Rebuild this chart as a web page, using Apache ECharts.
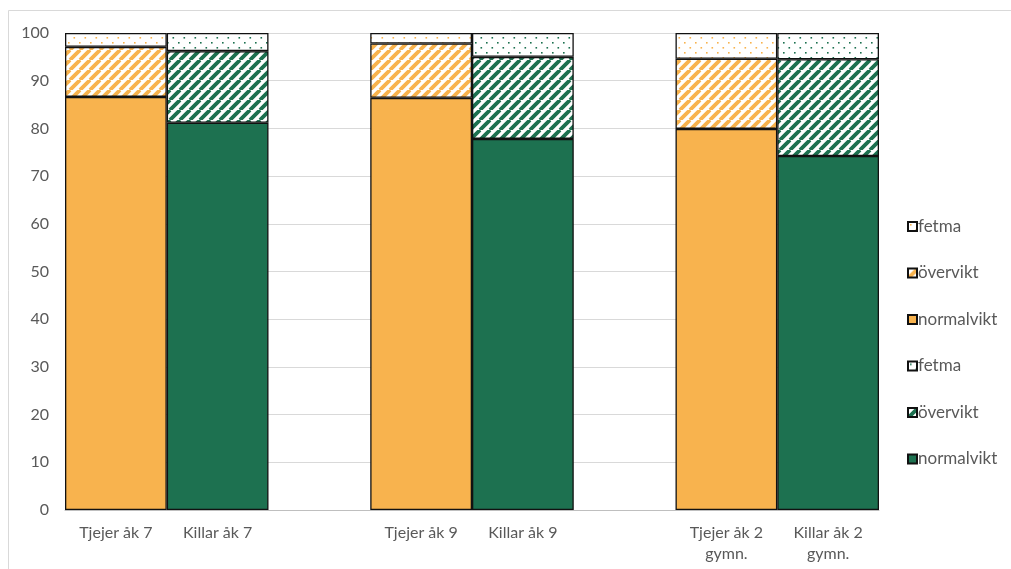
<!DOCTYPE html>
<html>
<head>
<meta charset="utf-8">
<script src="https://cdn.jsdelivr.net/npm/echarts@6/dist/echarts.min.js"></script>
<style>
html,body{margin:0;padding:0;background:#fff;}
#chart{width:1011px;height:569px;}
</style>
</head>
<body>
<div id="chart"></div>
<script>
// ---- data ----
const categories = ['Tjejer åk 7', 'Killar åk 7', '', 'Tjejer åk 9', 'Killar åk 9', '', 'Tjejer åk 2\ngymn.', 'Killar åk 2\ngymn.'];
const tjejerNormalvikt = [86.6, '-', '-', 86.4, '-', '-', 79.9, '-'];
const tjejerOvervikt   = [10.5, '-', '-', 11.4, '-', '-', 14.7, '-'];
const tjejerFetma      = [2.9,  '-', '-', 2.2,  '-', '-', 5.4,  '-'];
const killarNormalvikt = ['-', 81.2, '-', '-', 77.8, '-', '-', 74.2];
const killarOvervikt   = ['-', 15.0, '-', '-', 17.2, '-', '-', 20.3];
const killarFetma      = ['-', 3.8,  '-', '-', 5.0,  '-', '-', 5.5];
const yTicks = { min: 0, max: 100, interval: 10 };

const ORANGE = '#F8B34E';
const GREEN = '#1D7150';

function hatch(color) {
  const s = 10;
  const c = document.createElement('canvas');
  c.width = s; c.height = s;
  const ctx = c.getContext('2d');
  ctx.fillStyle = '#fff';
  ctx.fillRect(0, 0, s, s);
  ctx.strokeStyle = color;
  ctx.lineWidth = 3.8;
  ctx.beginPath();
  for (let k = -1; k <= 1; k++) {
    ctx.moveTo(k * s, s);
    ctx.lineTo(k * s + s, 0);
  }
  ctx.stroke();
  return { image: c, repeat: 'repeat' };
}
function dots(color) {
  const w = 11, h = 10;
  const c = document.createElement('canvas');
  c.width = w; c.height = h;
  const ctx = c.getContext('2d');
  ctx.fillStyle = '#fff';
  ctx.fillRect(0, 0, w, h);
  ctx.fillStyle = color;
  ctx.fillRect(2, 2, 1.6, 1.6);
  ctx.fillRect(7.5, 7, 1.6, 1.6);
  return { image: c, repeat: 'repeat' };
}

const border = { borderColor: '#111', borderWidth: 1.3 };
function mk(id, data, color) {
  return {
    name: id, type: 'bar', stack: 'all', data: data,
    barWidth: '100%', barGap: '0%',
    itemStyle: Object.assign({ color: color }, border),
    emphasis: { disabled: true }
  };
}

const chart = echarts.init(document.getElementById('chart'));
chart.setOption({
  animation: false,
  backgroundColor: '#fff',
  graphic: [{
    type: 'rect', shape: { x: 8.5, y: 10.5, width: 1100, height: 700 },
    style: { fill: 'none', stroke: '#d9d9d9', lineWidth: 1 }, silent: true, z: -1
  }],
  grid: { left: 65, right: 132, top: 33, bottom: 59, containLabel: false },
  legend: {
    orient: 'vertical', left: 902, top: 213,
    itemWidth: 9, itemHeight: 9, itemGap: 29.5,
    icon: 'rect',
    data: ['fetma_t', 'övervikt_t', 'normalvikt_t', 'fetma_k', 'övervikt_k', 'normalvikt_k'],
    formatter: function (n) { return n.split('_')[0]; },
    textStyle: { color: '#595959', fontSize: 17, fontFamily: 'Lato', padding: [0, 0, 0, -4] },
    selectedMode: false
  },
  xAxis: {
    type: 'category', data: categories,
    axisTick: { show: false },
    axisLine: { lineStyle: { color: '#bfbfbf', width: 1 } },
    axisLabel: { interval: 0, color: '#595959', fontSize: 16, fontFamily: 'Lato', margin: 12, lineHeight: 21 }
  },
  yAxis: {
    type: 'value', min: yTicks.min, max: yTicks.max, interval: yTicks.interval,
    axisLine: { show: false }, axisTick: { show: false },
    splitLine: { lineStyle: { color: '#d9d9d9', width: 1 } },
    axisLabel: { color: '#595959', fontSize: 16, fontFamily: 'Lato', margin: 16 }
  },
  series: [
    mk('normalvikt_t', tjejerNormalvikt, ORANGE),
    mk('övervikt_t', tjejerOvervikt, hatch(ORANGE)),
    mk('fetma_t', tjejerFetma, dots(ORANGE)),
    mk('normalvikt_k', killarNormalvikt, GREEN),
    mk('övervikt_k', killarOvervikt, hatch(GREEN)),
    mk('fetma_k', killarFetma, dots(GREEN))
  ]
});
</script>
</body>
</html>
